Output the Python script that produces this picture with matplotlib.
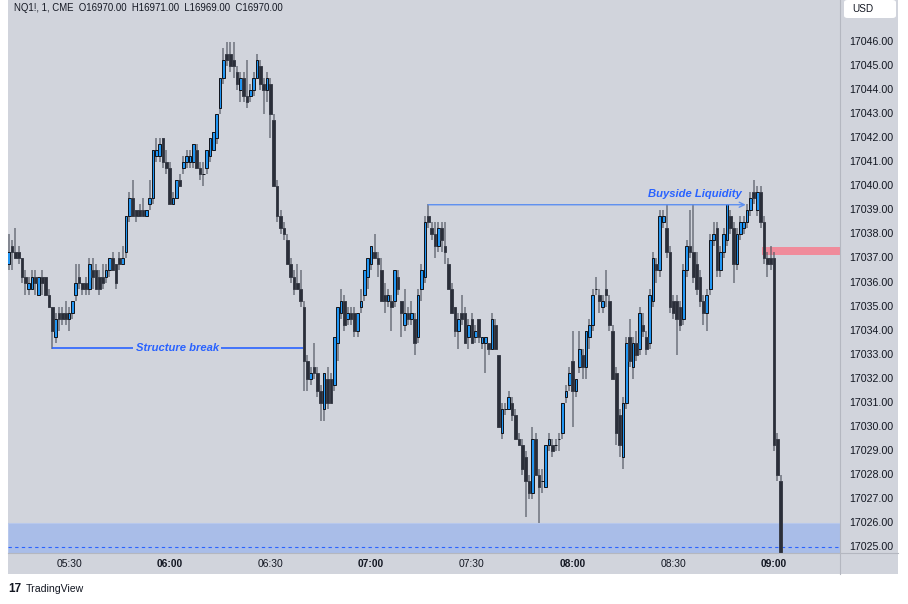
import matplotlib
matplotlib.use("Agg")
import matplotlib.pyplot as plt
import matplotlib.transforms as mtransforms
from matplotlib.patches import Rectangle, FancyBboxPatch
import numpy as np

# NQ1! 1-minute candles, 05:12 .. 09:02, prices as offset from 17000
BASE = 17000.0
opens = [
    36.75, 37.5, 37.25, 37.25, 37.0, 36.25, 35.75, 35.75, 36.25, 35.5,
    36.25, 36.25, 35.5, 35.0, 33.75, 34.75, 34.75, 34.75, 34.5, 34.75,
    35.5, 36.25, 36.0, 36.0, 35.75, 36.5, 36.5, 36.25, 36.25, 36.25,
    36.5, 37.0, 36.75, 37.0, 36.75, 37.25, 38.75, 39.5, 39.0, 39.0,
    39.0, 38.75, 39.25, 39.5, 41.25, 41.25, 42.0, 41.0, 40.75, 39.25,
    39.5, 40.25, 40.75, 41.0, 41.0, 41.0, 41.5, 40.75, 40.5, 40.75,
    41.25, 41.5, 42.0, 43.25, 44.5, 45.5, 45.5, 45.25, 44.75, 44.0,
    44.5, 43.75, 43.75, 44.0, 44.5, 45.0, 44.25, 44.0, 44.25, 42.75,
    40.0, 38.75, 38.25, 37.75, 36.75, 36.25, 36.0, 35.75, 35.0, 32.75,
    32.0, 32.5, 32.25, 31.5, 30.75, 32.0, 32.0, 31.75, 33.5, 34.75,
    35.25, 34.5, 34.75, 34.75, 34.0, 35.0, 35.5, 36.25, 36.75, 37.25,
    37.0, 36.5, 35.5, 35.25, 35.25, 35.25, 36.25, 35.25, 34.25, 34.75,
    34.5, 34.5, 33.75, 35.75, 36.25, 38.75, 38.25, 38.0, 37.5, 38.25,
    37.5, 36.75, 35.75, 35.0, 34.0, 34.75, 34.75, 33.75, 34.5, 33.75,
    34.5, 33.5, 33.5, 33.5, 33.25, 34.25, 33.0, 29.75, 30.75, 30.75,
    31.0, 30.5, 29.5, 29.25, 28.75, 27.75, 27.25, 29.5, 28.0, 27.75,
    27.5, 29.25, 29.25, 29.25, 29.5, 29.75, 31.25, 31.75, 32.75, 31.5,
    32.5, 33.0, 32.5, 33.75, 34.25, 35.75, 35.5, 35.0, 35.75, 35.25,
    34.0, 32.25, 30.5, 28.75, 31.0, 33.75, 32.5, 33.5, 33.25, 34.25,
    33.75, 33.5, 35.25, 36.75, 36.5, 38.5, 38.25, 37.25, 35.25, 35.25,
    35.0, 34.5, 36.5, 37.5, 37.25, 36.75, 36.25, 35.25, 34.75, 35.75,
    37.75, 38.25, 36.5, 37.25, 37.75, 38.75, 38.25, 36.75, 38.0, 38.25,
    38.5, 39.0, 39.75, 39.0, 39.75, 38.5, 37.0, 37.0, 37.0, 29.5,
    27.75,
]
highs = [
    38.0, 37.75, 38.25, 37.5, 37.0, 36.5, 36.25, 36.5, 36.5, 36.25,
    36.5, 36.25, 35.75, 35.0, 34.75, 35.0, 35.0, 35.25, 35.0, 35.25,
    36.75, 36.75, 36.0, 36.25, 37.0, 37.0, 36.75, 36.5, 36.75, 36.75,
    37.0, 37.25, 36.75, 37.25, 37.5, 38.75, 39.75, 40.25, 39.0, 39.25,
    39.5, 39.0, 40.25, 41.5, 42.0, 42.0, 42.0, 41.5, 41.0, 39.75,
    40.25, 40.5, 41.25, 41.5, 41.5, 41.75, 41.75, 41.0, 41.0, 41.5,
    42.0, 42.25, 43.0, 44.5, 45.75, 46.0, 46.0, 46.0, 45.0, 44.75,
    44.75, 45.25, 44.25, 44.75, 45.5, 45.25, 44.5, 44.75, 44.5, 43.0,
    40.25, 39.0, 38.5, 38.0, 37.0, 36.5, 36.75, 36.5, 35.25, 33.0,
    32.5, 33.5, 32.5, 31.75, 32.25, 32.5, 32.25, 33.75, 35.0, 35.75,
    35.5, 35.0, 35.0, 35.0, 34.75, 35.75, 36.5, 37.0, 37.5, 38.0,
    37.25, 37.0, 36.0, 35.75, 35.5, 36.5, 36.5, 35.25, 35.75, 35.0,
    35.25, 34.75, 35.75, 36.75, 38.75, 39.25, 38.5, 38.5, 38.5, 38.5,
    38.5, 37.0, 36.0, 35.0, 34.75, 35.5, 35.0, 34.5, 34.75, 34.25,
    34.5, 33.75, 33.75, 33.5, 34.75, 34.5, 33.0, 31.0, 31.0, 31.5,
    31.25, 30.75, 29.75, 29.5, 29.0, 28.0, 30.0, 29.75, 28.25, 28.25,
    29.25, 29.75, 29.5, 29.5, 29.75, 31.0, 31.75, 32.5, 34.0, 32.0,
    34.0, 33.25, 34.0, 34.5, 35.75, 36.25, 35.75, 35.5, 36.5, 35.5,
    34.25, 32.5, 30.75, 31.25, 33.75, 34.5, 33.75, 34.0, 35.0, 34.75,
    34.0, 35.75, 37.25, 37.0, 39.0, 39.0, 39.25, 37.5, 35.5, 35.5,
    35.25, 36.75, 37.75, 39.0, 39.25, 37.25, 36.5, 35.5, 35.75, 38.0,
    38.5, 38.5, 37.5, 38.25, 39.25, 39.0, 38.5, 38.25, 38.75, 38.75,
    39.25, 39.75, 40.25, 40.0, 40.0, 38.75, 37.25, 37.5, 37.25, 29.75,
    28.0,
]
lows = [
    36.5, 36.5, 37.0, 36.75, 36.0, 35.5, 35.5, 35.75, 35.5, 35.5,
    35.5, 35.5, 35.0, 33.25, 33.5, 34.0, 34.25, 34.25, 34.0, 34.5,
    35.25, 35.75, 35.5, 35.5, 35.5, 35.75, 35.75, 35.5, 35.75, 36.0,
    36.25, 36.5, 35.75, 36.5, 36.75, 37.0, 38.5, 38.75, 38.5, 38.75,
    38.75, 38.75, 39.0, 39.25, 41.0, 41.0, 40.75, 40.5, 39.25, 39.25,
    39.5, 40.0, 40.5, 40.75, 40.75, 40.75, 40.75, 40.25, 40.0, 40.5,
    41.0, 41.5, 41.75, 43.0, 44.25, 45.0, 44.75, 44.5, 44.0, 43.5,
    43.5, 43.25, 43.5, 43.75, 44.5, 44.0, 43.0, 43.5, 42.0, 40.0,
    38.5, 38.0, 37.75, 36.75, 36.0, 35.5, 35.75, 35.0, 31.5, 31.5,
    31.75, 32.0, 31.25, 30.25, 30.25, 30.75, 31.0, 31.5, 32.75, 34.5,
    34.0, 34.25, 34.25, 33.75, 33.75, 34.75, 35.25, 35.75, 36.5, 37.0,
    36.25, 35.25, 34.75, 35.0, 34.0, 35.0, 35.5, 33.75, 34.0, 34.25,
    34.25, 33.0, 33.5, 35.25, 36.0, 38.25, 37.75, 37.0, 37.25, 37.25,
    36.75, 35.75, 34.75, 33.75, 33.25, 34.25, 33.5, 33.25, 33.5, 33.5,
    33.5, 33.25, 32.25, 33.0, 33.25, 33.25, 30.0, 29.5, 30.5, 30.75,
    30.25, 29.5, 29.25, 28.0, 26.25, 27.0, 27.0, 28.0, 26.0, 27.25,
    27.5, 29.0, 28.75, 29.0, 29.0, 29.5, 31.0, 31.5, 30.0, 31.25,
    32.25, 32.0, 32.0, 33.25, 34.0, 35.5, 34.75, 34.75, 35.0, 34.0,
    32.0, 29.25, 28.75, 28.25, 30.75, 32.5, 32.0, 32.75, 33.0, 33.75,
    33.0, 33.25, 35.0, 36.0, 36.25, 38.25, 37.0, 34.75, 34.5, 33.0,
    34.0, 34.25, 36.25, 37.0, 36.0, 35.5, 35.0, 34.25, 34.0, 35.5,
    37.5, 36.25, 36.25, 37.0, 37.5, 38.0, 36.0, 36.5, 37.75, 38.0,
    38.25, 38.75, 39.25, 38.75, 38.25, 36.75, 36.25, 36.5, 29.0, 27.75,
    24.75,
]
closes = [
    37.25, 37.25, 37.0, 37.0, 36.25, 36.0, 36.0, 36.25, 36.0, 36.25,
    36.0, 35.5, 35.0, 34.0, 34.5, 34.5, 34.5, 34.5, 34.75, 35.25,
    36.0, 36.0, 35.75, 35.75, 36.75, 36.25, 35.75, 35.75, 36.0, 36.5,
    37.0, 36.5, 36.0, 36.75, 37.0, 38.75, 39.5, 38.75, 38.75, 38.75,
    38.75, 39.0, 39.5, 41.5, 41.5, 41.75, 41.0, 40.75, 39.25, 39.5,
    40.25, 40.0, 41.0, 41.25, 41.25, 41.75, 40.75, 40.5, 40.5, 41.5,
    42.0, 42.25, 43.0, 44.5, 45.25, 45.25, 45.0, 45.0, 44.25, 44.5,
    43.75, 43.5, 44.0, 44.5, 45.25, 44.25, 44.0, 44.5, 43.0, 40.0,
    38.75, 38.25, 38.0, 36.75, 36.25, 35.75, 35.75, 35.25, 32.75, 32.0,
    32.25, 32.25, 31.5, 31.0, 32.25, 31.0, 31.0, 33.75, 35.0, 35.25,
    34.25, 34.75, 34.5, 34.0, 34.75, 35.25, 36.5, 37.0, 37.5, 37.0,
    36.75, 35.25, 35.25, 35.5, 35.0, 36.5, 35.75, 34.75, 34.75, 34.5,
    34.75, 33.5, 35.5, 36.5, 38.5, 38.5, 38.0, 37.5, 38.25, 37.75,
    37.25, 35.75, 34.75, 34.0, 34.5, 34.5, 33.5, 34.25, 33.5, 34.0,
    33.75, 33.75, 33.75, 33.25, 34.5, 33.25, 30.0, 30.75, 30.75, 31.25,
    30.5, 29.5, 29.25, 28.25, 27.75, 27.25, 29.5, 28.0, 27.5, 27.75,
    29.25, 29.5, 29.0, 29.25, 29.5, 31.0, 31.5, 32.25, 31.5, 32.0,
    33.25, 32.5, 34.0, 34.25, 35.5, 35.75, 35.25, 35.25, 35.5, 34.25,
    32.0, 29.75, 29.25, 31.0, 33.5, 32.75, 33.5, 33.0, 34.75, 34.0,
    33.25, 35.5, 37.0, 36.5, 38.75, 38.75, 37.25, 35.0, 34.75, 34.5,
    34.25, 36.5, 37.5, 37.25, 36.25, 35.75, 35.25, 34.75, 35.5, 37.75,
    38.0, 36.5, 37.25, 38.0, 39.25, 38.25, 36.75, 38.0, 38.5, 38.5,
    39.0, 39.5, 39.5, 39.75, 38.5, 37.0, 36.75, 36.75, 29.25, 28.0,
    24.75,
]

time_ticks = [18, 48, 78, 108, 138, 168, 198, 228]
time_labels = ["05:30", "06:00", "06:30", "07:00", "07:30", "08:00", "08:30", "09:00"]
price_ticks = [17025 + k for k in range(22)]

structure_level = 17033.27
buyside_level = 17039.23
demand_zone_top = 17026.0
demand_line = 17025.0
supply_zone = (17037.14, 17037.48)

W, H = 908, 604
BG = "#d1d4dc"
TXT = "#131722"
BLUE = "#2962ff"
FONT = ["Liberation Sans", "DejaVu Sans"]
plt.rcParams["font.family"] = FONT


def fx(px):
    return px / W


def fy(py):
    return 1 - py / H


def main():
    o = np.array(opens) + BASE
    h = np.array(highs) + BASE
    lo = np.array(lows) + BASE
    c = np.array(closes) + BASE
    idx = np.arange(len(o))

    fig = plt.figure(figsize=(W / 100, H / 100), dpi=100, facecolor="white")
    # grey chart frame (plot + price scale + time scale)
    fig.add_artist(Rectangle((fx(8), fy(574)), fx(890), 574 / H, transform=fig.transFigure,
                             facecolor=BG, edgecolor="none", zorder=-5))

    ax = fig.add_axes([fx(8), fy(553), fx(832), 553 / H])
    ax.set_facecolor(BG)
    ax.set_xlim(-0.18, 247.67)
    ax.set_ylim(17024.77, 17047.73)
    for s in ax.spines.values():
        s.set_visible(False)

    # zones
    ax.axhspan(17024.0, demand_zone_top, facecolor="#a9bde8", edgecolor="#b8c8ec", lw=0.8, zorder=1)
    ax.axhline(demand_line, color=BLUE, lw=0.8, ls=(0, (3, 3)), zorder=2)
    ax.add_patch(Rectangle((224.4, supply_zone[0]), 30, supply_zone[1] - supply_zone[0],
                           facecolor="#f08b9b", edgecolor="none", zorder=1))

    # candles
    up = c >= o
    ax.vlines(idx, lo, h, color="#555964", alpha=0.8, lw=1.1, zorder=3)
    bottoms = np.minimum(o, c)
    heights = np.abs(c - o)
    ax.bar(idx[up], heights[up], bottom=bottoms[up], width=0.8,
           color="#2196f3", edgecolor="#10131a", lw=0.7, zorder=4)
    ax.bar(idx[~up], heights[~up], bottom=bottoms[~up], width=0.8,
           color="#2a2e39", edgecolor="#3a3e49", lw=0.7, zorder=4)

    # annotations
    ax.hlines(structure_level, 13, 87.6, color=BLUE, lw=1.2, zorder=5)
    ax.text(50.2, structure_level, "Structure break", color=BLUE, fontsize=8.1,
            fontweight="bold", fontstyle="italic", ha="center", va="center", zorder=6,
            bbox=dict(boxstyle="square,pad=0.25", facecolor=BG, edgecolor="none"))
    ax.annotate("", xy=(219.6, buyside_level), xytext=(125.0, buyside_level),
                arrowprops=dict(arrowstyle="->", color="#5d8ff0", lw=1.0,
                                mutation_scale=9, shrinkA=0, shrinkB=0), zorder=5)
    ax.text(218.3, buyside_level + 0.25, "Buyside Liquidity", color=BLUE, fontsize=8.1,
            fontweight="bold", fontstyle="italic", ha="right", va="bottom", zorder=6)

    # time scale
    ax.set_xticks(time_ticks)
    ax.set_xticklabels(time_labels)
    for lab in ax.get_xticklabels():
        lab.set_fontsize(7.4)
        lab.set_color(TXT)
        if lab.get_text().endswith(":00"):
            lab.set_fontweight("bold")
    ax.tick_params(axis="x", length=0, pad=4.5)
    ax.set_yticks([])

    # price scale
    trans = mtransforms.blended_transform_factory(fig.transFigure, ax.transData)
    for p in price_ticks:
        ax.text(fx(849), p, f"{p:.2f}", transform=trans, fontsize=7.7, color=TXT,
                ha="left", va="center", clip_on=False)

    fig.add_artist(plt.Line2D([fx(840), fx(840)], [fy(0), fy(574)], color="#b4b7c0", lw=0.8))
    fig.add_artist(plt.Line2D([fx(8), fx(898)], [fy(553), fy(553)], color="#b4b7c0", lw=0.8))

    fig.add_artist(FancyBboxPatch((fx(844), fy(18)), fx(52), 18 / H, transform=fig.transFigure,
                                  boxstyle="round,pad=0,rounding_size=0.004",
                                  facecolor="white", edgecolor="none"))
    fig.text(fx(852), fy(9), "USD", fontsize=7.2, color=TXT, va="center", ha="left")

    # header
    fig.text(fx(14), fy(8), "NQ1!, 1, CME  O16970.00  H16971.00  L16969.00  C16970.00",
             fontsize=6.95, color=TXT, va="center", ha="left")

    # footer logo
    fig.text(fx(8), fy(589), "17", fontsize=8.5, fontweight="bold", color=TXT, va="center", ha="left")
    fig.text(fx(26), fy(589), "TradingView", fontsize=7.6, color=TXT, va="center", ha="left")

    fig.savefig("out.png", dpi=100, facecolor="white")


if __name__ == "__main__":
    main()
